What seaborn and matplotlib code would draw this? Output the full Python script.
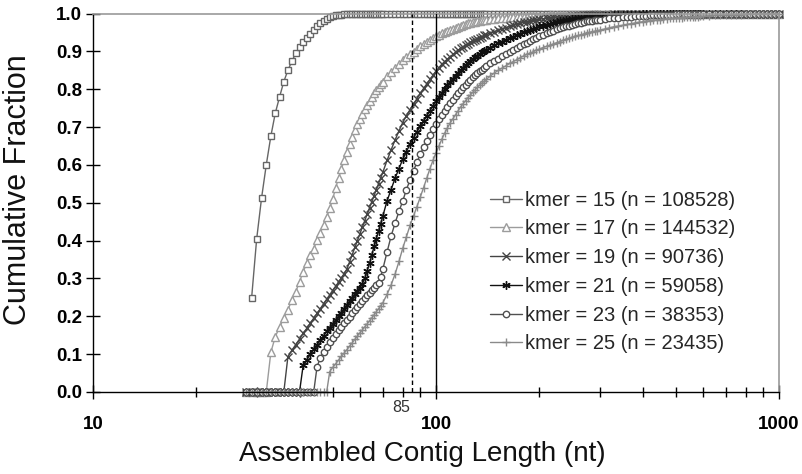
import numpy as np
import matplotlib
matplotlib.use("Agg")
import matplotlib.pyplot as plt
import seaborn as sns
from matplotlib.ticker import LogLocator, NullFormatter, FixedLocator, FixedFormatter

# ---------------- data ----------------
lengths = [28, 29, 30, 31, 32, 33, 34, 35, 36, 37, 38, 39, 40, 41, 42, 43, 44, 45, 46, 47, 48, 49,
           50, 51, 52, 53, 54, 55, 56, 57, 58, 59, 60, 61, 62, 63, 64, 65, 66, 67, 68, 69, 70,
           72, 74, 76, 78, 80, 82, 84, 86, 88, 90, 92, 94, 96, 98, 100, 102, 104, 106, 108, 110,
           112, 114, 116, 118, 120, 122, 124, 126, 128, 130, 132, 134, 136, 138, 140,
           144, 148, 152, 156, 160, 164, 168, 172, 176, 180, 184, 188, 192, 196, 200,
           205, 210, 215, 220, 225, 230, 235, 240, 245, 250, 255, 260, 265, 270, 275, 280, 285, 290, 295, 300,
           310, 320, 330, 340, 350, 360, 370, 380, 390, 400, 410, 420, 430, 440, 450, 460, 470, 480, 490, 500,
           510, 520, 530, 540, 550, 560, 570, 580, 590, 600,
           625, 650, 675, 700, 725, 750, 775, 800, 825, 850, 875, 900, 925, 950, 975, 1000]

kmer15 = [np.nan, .248, .404, .512, .600, .676, .737, .780, .820, .850, .874, .895, .911, .925, .936, .947,
          .957, .966, .974, .981, .986, .990, .993, .995, .996, .997, .998, .998, .999, .999, .999, 1.0, 1.0,
          1.0, 1.0, 1.0, 1.0, 1.0, 1.0, 1.0, 1.0, 1.0, 1.0,
          1.0, 1.0, 1.0, 1.0, 1.0, 1.0, 1.0, 1.0, 1.0, 1.0, 1.0, 1.0, 1.0, 1.0, 1.0, 1.0, 1.0, 1.0,
          1.0, 1.0, 1.0, 1.0, 1.0, 1.0, 1.0, 1.0, 1.0, 1.0, 1.0, 1.0, 1.0, 1.0, 1.0, 1.0, 1.0,
          1.0, 1.0, 1.0, 1.0, 1.0, 1.0, 1.0, 1.0, 1.0, 1.0, 1.0, 1.0, 1.0, 1.0, 1.0,
          1.0, 1.0, 1.0, 1.0, 1.0, 1.0, 1.0, 1.0, 1.0, 1.0, 1.0, 1.0, 1.0, 1.0, 1.0, 1.0, 1.0, 1.0, 1.0, 1.0,
          1.0, 1.0, 1.0, 1.0, 1.0, 1.0, 1.0, 1.0, 1.0, 1.0, 1.0, 1.0, 1.0, 1.0, 1.0, 1.0, 1.0, 1.0, 1.0, 1.0,
          1.0, 1.0, 1.0, 1.0, 1.0, 1.0, 1.0, 1.0, 1.0, 1.0,
          1.0, 1.0, 1.0, 1.0, 1.0, 1.0, 1.0, 1.0, 1.0, 1.0, 1.0, 1.0, 1.0, 1.0, 1.0, 1.0]

kmer17 = [0.0, 0.0, 0.0, 0.0, 0.0, .105, .146, .172, .195, .217, .243, .265, .291, .318, .340, .362,
          .379, .401, .420, .440, .462, .485, .510, .540, .565, .590, .612, .635, .655, .675, .692, .708, .722,
          .735, .748, .759, .770, .780, .790, .798, .805, .813, .820,
          .835, .846, .857, .866, .876, .884, .892, .899, .906, .913, .919, .925, .931, .936, .941, .944,
          .948, .951, .954, .957, .960, .962, .965, .967, .970, .972, .974, .975, .977, .978, .980, .981,
          .982, .983, .984,
          .985, .986, .987, .988, .989, .990, .990, .991, .991, .992, .992, .993, .993, .993, .994,
          .994, .994, .995, .995, .995, .995, .996, .996, .996, .996, .997, .997, .997, .997, .997, .997,
          .998, .998, .998, .998,
          .998, .998, .998, .999, .999, .999, .999, .999, .999, .999, .999, .999, 1.0, 1.0, 1.0, 1.0,
          1.0, 1.0, 1.0, 1.0, 1.0, 1.0, 1.0, 1.0, 1.0, 1.0, 1.0, 1.0, 1.0, 1.0,
          1.0, 1.0, 1.0, 1.0, 1.0, 1.0, 1.0, 1.0, 1.0, 1.0, 1.0, 1.0, 1.0, 1.0, 1.0, 1.0]

kmer19 = [0.0, 0.0, 0.0, 0.0, 0.0, 0.0, 0.0, 0.0, 0.0, .093, .110, .125, .140, .155, .168, .182,
          .195, .208, .220, .233, .245, .257, .268, .280, .290, .302, .313, .325, .344, .363, .382, .400, .418,
          .436, .453, .470, .487, .503, .519, .535, .550, .566, .581,
          .612, .640, .666, .690, .712, .730, .746, .761, .775, .789, .802, .814, .826, .837, .848, .857,
          .866, .873, .880, .886, .892, .898, .903, .908, .912, .916, .920, .924, .927, .930, .933, .936,
          .939, .942, .944,
          .948, .952, .956, .959, .963, .966, .969, .971, .974, .977, .978, .980, .982, .983, .985,
          .986, .988, .989, .990, .990, .991, .991, .992, .992, .993, .993, .994, .994, .995, .995, .996,
          .996, .996, .997, .997,
          .997, .997, .998, .998, .998, .998, .999, .999, .999, .999, .999, .999, .999, .999, .999, 1.0,
          1.0, 1.0, 1.0, 1.0, 1.0, 1.0, 1.0, 1.0, 1.0, 1.0, 1.0, 1.0, 1.0, 1.0,
          1.0, 1.0, 1.0, 1.0, 1.0, 1.0, 1.0, 1.0, 1.0, 1.0, 1.0, 1.0, 1.0, 1.0, 1.0, 1.0]

kmer21 = [0.0, 0.0, 0.0, 0.0, 0.0, 0.0, 0.0, 0.0, 0.0, 0.0, 0.0, 0.0, 0.0, .071, .085, .100,
          .113, .125, .137, .148, .160, .170, .180, .190, .200, .210, .220, .230, .240, .249, .258, .267, .276,
          .286, .300, .320, .340, .362, .385, .405, .425, .445, .465,
          .505, .535, .565, .590, .615, .635, .655, .672, .688, .703, .717, .730, .743, .756, .768, .779,
          .790, .800, .810, .819, .828, .836, .843, .850, .857, .863, .869, .874, .879, .884, .888, .892,
          .897, .901, .904,
          .910, .916, .921, .926, .931, .935, .939, .943, .947, .951, .954, .957, .960, .963, .966,
          .968, .970, .972, .975, .977, .979, .980, .982, .983, .985, .986, .987, .988, .989, .990, .990,
          .991, .991, .992, .992,
          .993, .994, .995, .995, .996, .996, .997, .997, .997, .998, .998, .998, .998, .999, .999, .999,
          .999, .999, .999, .999, 1.0, 1.0, 1.0, 1.0, 1.0, 1.0, 1.0, 1.0, 1.0, 1.0,
          1.0, 1.0, 1.0, 1.0, 1.0, 1.0, 1.0, 1.0, 1.0, 1.0, 1.0, 1.0, 1.0, 1.0, 1.0, 1.0]

kmer23 = [0.0, 0.0, 0.0, 0.0, 0.0, 0.0, 0.0, 0.0, 0.0, 0.0, 0.0, 0.0, 0.0, 0.0, 0.0, 0.0,
          0.0, .067, .090, .107, .120, .132, .143, .153, .163, .172, .181, .190, .199, .208, .217, .225, .233,
          .241, .248, .255, .262, .269, .275, .282, .288, .305, .325,
          .370, .412, .447, .477, .505, .535, .560, .585, .607, .628, .647, .664, .680, .695, .708, .720,
          .732, .743, .753, .763, .772, .781, .790, .798, .805, .812, .819, .825, .831, .837, .842, .847,
          .852, .856, .860,
          .868, .875, .881, .887, .893, .898, .904, .909, .914, .919, .923, .927, .932, .936, .940,
          .944, .948, .952, .955, .958, .961, .964, .966, .968, .970, .972, .974, .976, .977, .979, .980,
          .981, .982, .983, .984,
          .986, .987, .988, .989, .990, .991, .992, .993, .993, .994, .994, .995, .995, .996, .996, .997,
          .997, .997, .997, .998, .998, .998, .998, .998, .998, .999, .999, .999, .999, .999,
          .999, .999, .999, .999, 1.0, 1.0, 1.0, 1.0, 1.0, 1.0, 1.0, 1.0, 1.0, 1.0, 1.0, 1.0]

kmer25 = [0.0, 0.0, 0.0, 0.0, 0.0, 0.0, 0.0, 0.0, 0.0, 0.0, 0.0, 0.0, 0.0, 0.0, 0.0, 0.0,
          0.0, 0.0, 0.0, 0.0, 0.0, .054, .065, .075, .085, .094, .103, .112, .121, .130, .139, .148, .156,
          .164, .172, .180, .188, .196, .204, .212, .220, .228, .236,
          .258, .283, .312, .345, .380, .410, .440, .465, .490, .515, .540, .565, .590, .612, .632, .650,
          .668, .684, .698, .711, .722, .733, .743, .753, .762, .770, .778, .785, .792, .799, .805, .811,
          .816, .821, .826,
          .835, .843, .850, .856, .862, .868, .873, .878, .883, .888, .892, .895, .899, .903, .906,
          .910, .913, .916, .920, .923, .926, .929, .932, .935, .937, .940, .942, .944, .946, .948, .950,
          .952, .953, .955, .956,
          .959, .962, .965, .967, .969, .971, .973, .975, .977, .978, .980, .981, .982, .983, .984, .985,
          .986, .987, .987, .988, .989, .989, .990, .990, .991, .991, .992, .992, .993, .993,
          .994, .995, .995, .996, .996, .997, .997, .998, .998, .998, .999, .999, .999, .999, 1.0, 1.0]

series_values = [kmer15, kmer17, kmer19, kmer21, kmer23, kmer25]
series_labels = ["kmer = 15 (n = 108528)", "kmer = 17 (n = 144532)",
                 "kmer = 19 (n = 90736)", "kmer = 21 (n = 59058)",
                 "kmer = 23 (n = 38353)", "kmer = 25 (n = 23435)"]
y_ticks = [0.0, 0.1, 0.2, 0.3, 0.4, 0.5, 0.6, 0.7, 0.8, 0.9, 1.0]
x_ticks = [10, 100, 1000]
ref_dashed = 85
ref_solid = 100

# ---------------- styling ----------------
sns.set_style("ticks")
plt.rcParams["font.family"] = ["Liberation Sans", "DejaVu Sans"]

styles = [
    dict(color="#666666", marker="s", markersize=5.0),
    dict(color="#9c9c9c", marker="^", markersize=5.6),
    dict(color="#444444", marker="x", markersize=5.2),
    dict(color="#111111", marker=(6, 2, 0), markersize=6.0),
    dict(color="#505050", marker="o", markersize=4.6),
    dict(color="#8a8a8a", marker="+", markersize=6.4),
]

fig = plt.figure(figsize=(8.03, 4.74), dpi=100)
ax = fig.add_axes([93 / 803, 1 - 392 / 474, 686 / 803, 378.5 / 474])

for vals, lab, st in zip(series_values, series_labels, styles):
    sns.lineplot(x=lengths, y=vals, ax=ax, label=lab, color=st["color"],
                 marker=st["marker"], markersize=st["markersize"],
                 markerfacecolor="white", markeredgecolor=st["color"],
                 markeredgewidth=1.0, linewidth=1.0, estimator=None,
                 sort=False, clip_on=False)

ax.axvline(ref_dashed, color="black", lw=1.0, dashes=(3.2, 2.2), zorder=5)
ax.axvline(ref_solid, color="black", lw=1.0, zorder=5)

ax.set_xscale("log")
ax.set_xlim(10, 1000)
ax.set_ylim(0, 1)

ax.xaxis.set_major_locator(FixedLocator(x_ticks))
ax.xaxis.set_major_formatter(FixedFormatter([str(v) for v in x_ticks]))
ax.xaxis.set_minor_locator(LogLocator(base=10, subs=np.arange(2, 10)))
ax.xaxis.set_minor_formatter(NullFormatter())
ax.set_yticks(y_ticks)
ax.set_yticklabels([f"{v:.1f}" for v in y_ticks])

ax.tick_params(axis="both", which="major", direction="inout", length=10,
               width=1.0, color="black", labelcolor="black", labelsize=13.5)
ax.tick_params(axis="x", which="minor", direction="inout", length=6.5,
               width=1.0, color="black")
ax.tick_params(axis="x", which="major", pad=12)
ax.tick_params(axis="y", which="major", pad=3)

fig.canvas.draw()
for lbl in ax.get_xticklabels() + ax.get_yticklabels():
    lbl.set_fontweight("bold")
    lbl.set_fontsize(13.5)

for side in ["left", "bottom"]:
    ax.spines[side].set_color("black")
    ax.spines[side].set_linewidth(1.0)
for side in ["top", "right"]:
    ax.spines[side].set_color("#9a9a9a")
    ax.spines[side].set_linewidth(1.2)

ax.annotate(str(ref_dashed), xy=(ref_dashed, 0), xycoords=("data", "axes fraction"),
            xytext=(-1.5, -10.8), textcoords="offset points", ha="right", va="center",
            fontsize=11.5, color="#333333")

ax.set_xlabel("Assembled Contig Length (nt)", fontsize=20, color="#111111")
ax.xaxis.set_label_coords((422 - 93) / 686, -0.13)
ax.set_ylabel("Cumulative Fraction", fontsize=22, color="#111111")
ax.yaxis.set_label_coords(-0.088, 0.535)

handles, labels = ax.get_legend_handles_labels()
ax.legend(handles, labels, loc="upper left", bbox_to_anchor=(0.5787, 0.532),
          frameon=False, fontsize=14.5, handlelength=1.6, handletextpad=0.15,
          labelspacing=0.485, borderpad=0, borderaxespad=0)

fig.savefig("out.png", dpi=100)
